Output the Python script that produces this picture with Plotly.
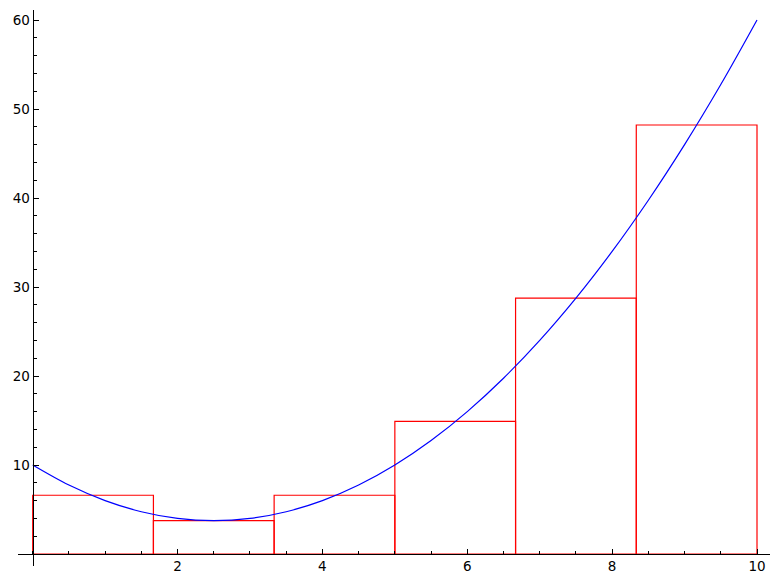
import plotly.graph_objects as go

# Curve samples
curve_x = [0, 0.5, 1, 1.5, 2, 2.5, 3, 3.5, 4, 4.5, 5, 5.5, 6, 6.5, 7, 7.5, 8, 8.5, 9, 9.5, 10]
curve_y = [10, 7.75, 6, 4.75, 4, 3.75, 4, 4.75, 6, 7.75, 10, 12.75, 16, 19.75, 24, 28.75, 34, 39.75, 46, 52.75, 60]

# Rectangles (left edge, right edge, height)
rect_left = [0, 1.6667, 3.3333, 5.0, 6.6667, 8.3333]
rect_right = [1.6667, 3.3333, 5.0, 6.6667, 8.3333, 10.0]
rect_height = [6.6, 3.75, 6.6, 14.9, 28.75, 48.2]

x_ticks = [2, 4, 6, 8, 10]
y_ticks = [10, 20, 30, 40, 50, 60]

W, H = 781, 584

rx, ry = [], []
for l, r, h in zip(rect_left, rect_right, rect_height):
    rx += [l, l, r, r, l, None]
    ry += [0, h, h, 0, 0, None]

fig = go.Figure()
fig.add_trace(go.Scatter(x=rx, y=ry, mode="lines",
                         line=dict(color="#ff0000", width=1.2),
                         hoverinfo="skip", showlegend=False))
fig.add_trace(go.Scatter(x=curve_x, y=curve_y, mode="lines",
                         line=dict(color="#0000ff", width=1.2, shape="spline", smoothing=1.0),
                         showlegend=False))

# pixel geometry
x0_px, x10_px = 32.7, 757.0
sx = (x10_px - x0_px) / 10.0
y0_px, y60_px = 554.0, 20.0
sy = (y0_px - y60_px) / 60.0

xl_px, xr_px = 18.0, 770.0
yt_px, yb_px = 10.0, 566.0

fig.update_layout(
    width=W, height=H,
    margin=dict(l=0, r=0, t=0, b=0, autoexpand=False),
    paper_bgcolor="white", plot_bgcolor="white",
    font=dict(family="DejaVu Sans", size=13.5, color="black"),
    xaxis=dict(
        automargin=False,
        domain=[xl_px / W, xr_px / W],
        range=[-(x0_px - xl_px) / sx, 10 + (xr_px - x10_px) / sx],
        anchor="free", position=(H - y0_px) / H,
        showline=True, linecolor="black", linewidth=1.3,
        showgrid=False, zeroline=False,
        tickvals=x_ticks, ticktext=[str(v) for v in x_ticks],
        ticks="inside", ticklen=5, tickwidth=1, tickcolor="black",
        minor=dict(dtick=0.5, tick0=0, ticks="inside", ticklen=3, tickwidth=1, tickcolor="black", showgrid=False),
    ),
    yaxis=dict(
        automargin=False,
        domain=[(H - yb_px) / H, (H - yt_px) / H],
        range=[-(yb_px - y0_px) / sy, 60 + (y60_px - yt_px) / sy],
        anchor="free", position=x0_px / W,
        showline=True, linecolor="black", linewidth=1.3,
        showgrid=False, zeroline=False,
        tickvals=y_ticks, ticktext=[str(v) for v in y_ticks],
        ticks="inside", ticklen=5, tickwidth=1, tickcolor="black",
        minor=dict(dtick=2, tick0=0, ticks="inside", ticklen=3, tickwidth=1, tickcolor="black", showgrid=False),
    ),
)

fig.write_html("out.html", config={"displayModeBar": False},
               post_script="document.body.style.margin='0';document.body.style.overflow='hidden';")
